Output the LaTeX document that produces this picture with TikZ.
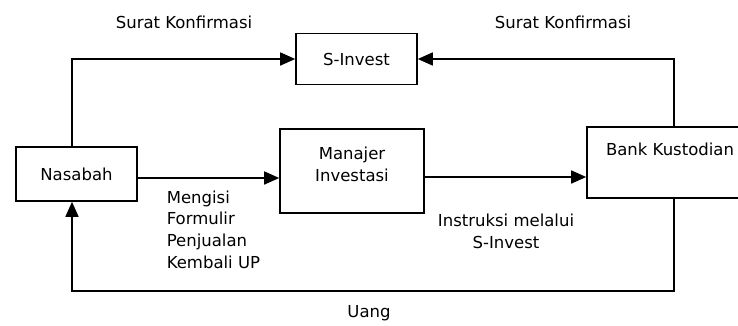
\documentclass[tikz,border=0pt]{standalone}
\usepackage{fontspec}
\setmainfont{DejaVu Sans}
\usetikzlibrary{arrows.meta,positioning}
\begin{document}
\begin{tikzpicture}[x=1pt, y=-1pt, line width=1.6pt, >={Triangle[length=15pt,width=13pt]},
	every node/.style={font=\fontsize{16.5}{21.7}\selectfont, inner sep=0pt},
	box/.style={draw, rectangle, line width=1.6pt}]

	\useasboundingbox (0,0) rectangle (738,325);
	\clip (0,0) rectangle (738,325);

	\node [box, minimum width=121pt, minimum height=54pt] (N) at (76.5,174) {Nasabah};
	\node [box, minimum width=121pt, minimum height=51pt] (S) at (356.5,59) {S-Invest};
	\node [box, minimum width=144pt, minimum height=84pt] (M) at (352,171) {};
	\node [align=center] (Mt) at (352,164) {Manajer \\ Investasi};
	\node [box, minimum width=174pt, minimum height=71pt] (B) at (674,162.5) {};
	\node (Bt) at (670,149) {Bank Kustodian};

	\coordinate (U) at (369,291);

	\draw [->] ([xshift=-4.5pt]N.north) |- (S.west);
	\draw [->] (B.north) |- (S.east);
	\draw [->] ([yshift=-4pt]N.east) -- ([yshift=-4pt]N.east -| M.west);
	\draw [->] ([yshift=-6pt]M.east) -- ([yshift=-6pt]M.east -| B.west);
	\draw [->] (B.south) |- (U) -| ([xshift=-4.5pt]N.south);

	\node (L1) at (184,22) {Surat Konfirmasi};
	\node (L2) at (563,22) {Surat Konfirmasi};
	\node [anchor=west, align=left] (L3) at (166,229.5)
	{Mengisi \\ Formulir \\ Penjualan \\ Kembali UP};
	\node [align=center] (L4) at (506,231) {Instruksi melalui \\ S-Invest};
	\node (L5) at (369,313) {Uang};

\end{tikzpicture}
\end{document}
